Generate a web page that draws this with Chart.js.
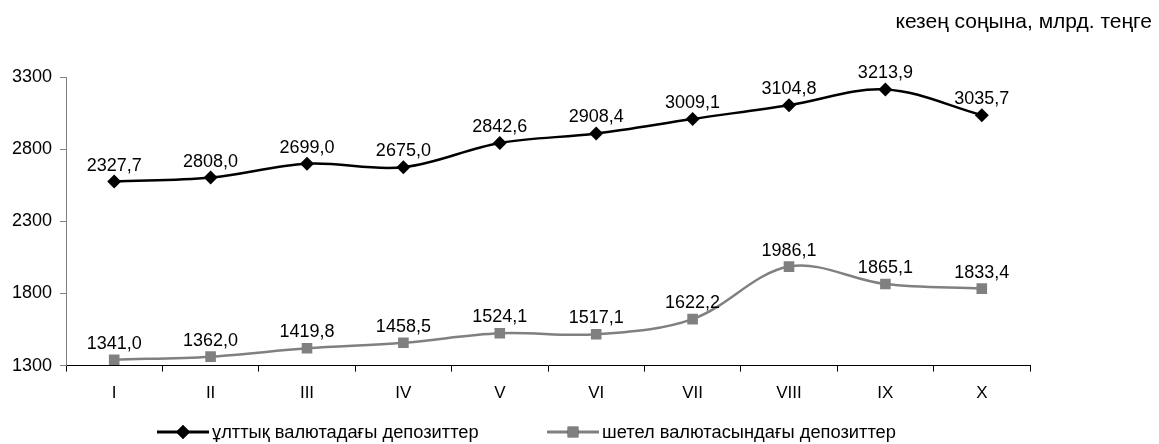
<!DOCTYPE html>
<html>
<head>
<meta charset="utf-8">
<script src="https://cdn.jsdelivr.net/npm/chart.js@4.4.1/dist/chart.umd.min.js"></script>
<style>
  html, body { margin: 0; padding: 0; background: #fff; }
  #wrap { width: 1159px; height: 444px; position: relative; }
</style>
</head>
<body>
<div id="wrap"><canvas id="chart"></canvas></div>
<script>
const months = ['I', 'II', 'III', 'IV', 'V', 'VI', 'VII', 'VIII', 'IX', 'X'];

// national currency deposits: where the points sit on the picture
const nationalValues = [2575, 2603, 2699.0, 2675.0, 2842.6, 2908.4, 3009.1, 3104.8, 3213.9, 3035.7];
// ...and the numbers printed over them
const nationalLabels = ['2327,7', '2808,0', '2699,0', '2675,0', '2842,6', '2908,4', '3009,1', '3104,8', '3213,9', '3035,7'];

const foreignValues = [1341.0, 1362.0, 1419.8, 1458.5, 1524.1, 1517.1, 1622.2, 1986.1, 1865.1, 1833.4];
const foreignLabels = ['1341,0', '1362,0', '1419,8', '1458,5', '1524,1', '1517,1', '1622,2', '1986,1', '1865,1', '1833,4'];

const seriesNames = ['ұлттық валютадағы депозиттер', 'шетел валютасындағы депозиттер'];
const unitText = 'кезең соңына, млрд. теңге';
const yMin = 1300, yMax = 3300, yStep = 500;

const font = '"Liberation Sans", Arial, sans-serif';

const extras = {
  id: 'extras',
  afterDatasetsDraw(chart) {
    const ctx = chart.ctx;
    const texts = [nationalLabels, foreignLabels];
    ctx.save();
    ctx.font = '18px ' + font;
    ctx.fillStyle = '#000';
    ctx.textAlign = 'center';
    ctx.textBaseline = 'middle';
    chart.data.datasets.forEach((ds, i) => {
      chart.getDatasetMeta(i).data.forEach((pt, j) => {
        ctx.fillText(texts[i][j], pt.x, pt.y - 16);
      });
    });
    ctx.restore();
  },
  afterDraw(chart) {
    const ctx = chart.ctx;
    ctx.save();
    // unit note, top right
    ctx.font = '21px ' + font;
    ctx.fillStyle = '#000';
    ctx.textAlign = 'right';
    ctx.textBaseline = 'middle';
    ctx.fillText(unitText, 1152, 22);

    // legend: line with marker, then name
    const items = [
      { x: 157, ds: chart.data.datasets[0] },
      { x: 547, ds: chart.data.datasets[1] }
    ];
    const ly = 432;
    items.forEach((it, i) => {
      const c = it.ds.borderColor;
      ctx.strokeStyle = c;
      ctx.lineWidth = 3;
      ctx.beginPath();
      ctx.moveTo(it.x, ly);
      ctx.lineTo(it.x + 52, ly);
      ctx.stroke();
      Chart.helpers.drawPoint(ctx, {
        pointStyle: it.ds.pointStyle,
        radius: it.ds.pointRadius,
        borderWidth: 0
      }, it.x + 26, ly);
      ctx.fillStyle = c;
      ctx.fill();
      ctx.fillStyle = '#000';
      ctx.font = '18.3px ' + font;
      ctx.textAlign = 'left';
      ctx.fillText(seriesNames[i], it.x + 55, ly + 1);
    });
    ctx.restore();
  }
};

new Chart(document.getElementById('chart'), {
  type: 'line',
  data: {
    labels: months,
    datasets: [
      {
        label: seriesNames[0],
        data: nationalValues,
        borderColor: '#000',
        backgroundColor: '#000',
        borderWidth: 2.5,
        pointStyle: 'rectRot',
        pointRadius: 7,
        pointBorderWidth: 0,
        tension: 0.35
      },
      {
        label: seriesNames[1],
        data: foreignValues,
        borderColor: '#808080',
        backgroundColor: '#808080',
        borderWidth: 2.5,
        pointStyle: 'rect',
        pointRadius: 7.5,
        pointBorderWidth: 0,
        tension: 0.35
      }
    ]
  },
  options: {
    responsive: true,
    maintainAspectRatio: false,
    animation: false,
    layout: { padding: { top: 77, right: 129, left: 0, bottom: 28 } },
    scales: {
      x: {
        offset: true,
        grid: { offset: true, drawOnChartArea: false, drawTicks: true, tickLength: 6, color: '#000' },
        border: { color: '#000', width: 1 },
        ticks: { color: '#000', font: { family: font, size: 17 }, padding: 12 }
      },
      y: {
        min: yMin,
        max: yMax,
        afterFit(scale) { scale.width = 66; },
        grid: { drawOnChartArea: false, drawTicks: true, tickLength: 6, color: '#808080' },
        border: { color: '#808080', width: 1 },
        ticks: {
          stepSize: yStep,
          color: '#000',
          font: { family: font, size: 18 },
          padding: 8,
          callback: (v) => String(v)
        }
      }
    },
    plugins: {
      legend: { display: false },
      tooltip: { enabled: false }
    }
  },
  plugins: [extras]
});
</script>
</body>
</html>
